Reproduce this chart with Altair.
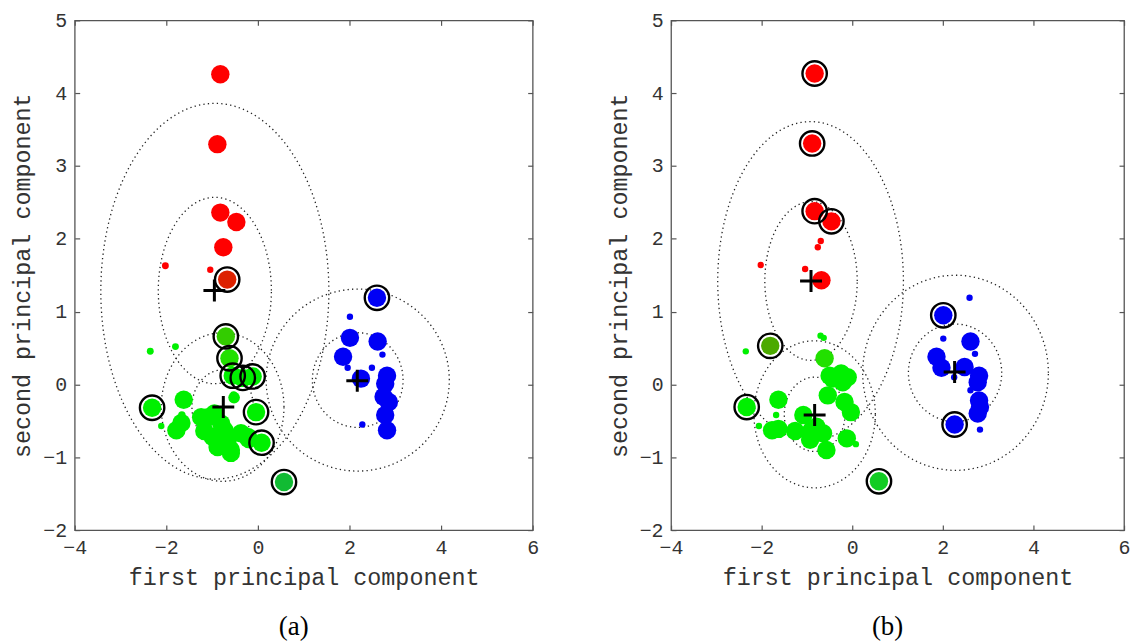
import numpy as np
import pandas as pd
import altair as alt

# ---------------- data: panel (a) ----------------
a_x = [-0.82, -0.885, -0.82, -0.47, -0.755, -2.02, -1.04, -0.67,
       -0.70, -0.62, -0.55, -0.33, -0.115, -2.31, -0.04, 0.08, 0.57,
       -2.35, -1.80, -1.62, -1.66, -2.11, -1.78, -1.67,
       -1.09, -1.17, -0.88, -0.59, -0.73, -0.37, -0.22, -0.52, -0.53,
       -0.95, -0.80, -0.985, -0.66, -0.20, -0.59, -0.88, -1.24,
       2.60, 2.01, 2.01, 2.615, 2.72, 1.86, 1.96, 2.49, 2.25,
       2.82, 2.78, 2.745, 2.86, 2.78, 2.82, 2.28]
a_y = [4.26, 3.30, 2.36, 2.23, 1.885, 1.63, 1.575, 1.44,
       0.66, 0.36, 0.12, 0.09, 0.11, -0.32, -0.38, -0.80, -1.34,
       0.455, 0.52, -0.21, -0.42, -0.57, -0.63, -0.53,
       -0.45, -0.64, -0.81, -0.90, -0.63, -0.67, -0.72, -0.18, -0.14,
       -0.40, -0.54, -0.72, -0.77, -0.75, -0.94, -0.86, -0.45,
       1.19, 0.93, 0.64, 0.59, 0.41, 0.38, 0.23, 0.23, 0.08,
       0.12, 0.01, -0.17, -0.24, -0.42, -0.63, -0.55]
a_w = [1, 1, 1, 1, 1, 0.14, 0.12, 1,
       1, 1, 1, 1, 1, 1, 1, 1, 1,
       0.14, 0.14, 1, 0.16, 0.12, 1, 1,
       1, 1, 1, 1, 1, 1, 1, 0.4, 0.14,
       1, 1, 1, 1, 1, 1, 1, 1,
       1, 0.12, 1, 1, 0.12, 1, 0.12, 0.12, 1,
       1, 1, 1, 1, 1, 1, 0.12]
a_cls = ["r"] * 7 + ["r2",
         "g2", "g3", "g", "g", "g", "g", "g", "g", "g4",
         "g", "g", "g", "g", "g", "g", "g",
         "g", "g", "g", "g", "g", "g", "g", "g", "g",
         "g", "g", "g", "g", "g", "g", "g", "g"] + ["b"] * 16
a_ring = [0] * 7 + [1] + [1] * 9 + [0] * 24 + [1] + [0] * 15
a_cx = [-0.95, -0.755, 2.17]
a_cy = [1.29, -0.31, 0.05]
a_ecx = [-0.94, -0.94, -0.77, -0.77, 2.18, 2.18]
a_ecy = [1.29, 1.28, -0.31, -0.31, 0.06, 0.06]
a_erx = [1.235, 2.49, 0.67, 1.34, 0.99, 2.0]
a_ery = [1.28, 2.58, 0.51, 1.02, 0.65, 1.25]

# ---------------- data: panel (b) ----------------
b_x = [-0.83, -0.885, -0.83, -0.46, -0.695, -0.76, -2.02, -1.04, -0.68,
       -1.81, -2.35, -0.70, -0.63, -0.61, -0.50, -0.245, -0.10, -0.21, -0.43,
       -0.54, -0.17, -0.03, -1.63, -1.68, -2.06, -2.33, -1.77, -1.63, -1.26,
       -1.08, -0.90, -0.79, -0.645, -0.93, -0.57, -0.12, 0.08, 0.59,
       2.59, 2.01, 2.01, 2.61, 2.71, 1.86, 1.97, 2.48, 2.25, 2.80, 2.77,
       2.61, 2.80, 2.82, 2.77, 2.26, 2.82]
b_y = [4.27, 3.31, 2.38, 2.24, 1.97, 1.885, 1.64, 1.585, 1.43,
       0.53, 0.455, 0.67, 0.64, 0.36, 0.12, 0.15, 0.10, 0.03, 0.08,
       -0.15, -0.24, -0.38, -0.21, -0.42, -0.57, -0.31, -0.63, -0.61, -0.64,
       -0.42, -0.63, -0.58, -0.67, -0.76, -0.90, -0.74, -0.82, -1.33,
       1.19, 0.95, 0.63, 0.59, 0.42, 0.38, 0.23, 0.24, 0.10, 0.12, 0.03,
       -0.08, -0.22, -0.31, -0.40, -0.55, -0.62]
b_w = [1, 1, 1, 1, 0.12, 0.12, 0.12, 0.12, 1,
       1, 0.12, 0.12, 0.12, 1, 1, 1, 1, 1, 1,
       1, 1, 1, 1, 0.12, 0.12, 1, 1, 1, 1,
       1, 1, 1, 1, 1, 1, 1, 0.12, 1,
       0.12, 1, 0.12, 1, 0.12, 1, 1, 1, 0.12, 1, 1,
       0.12, 1, 1, 1, 1, 0.12]
b_cls = ["r"] * 9 + ["g5", "g", "g", "g", "g3"] + ["g"] * 23 + ["g6"] + ["b"] * 17
b_ring = [1, 1, 1, 1, 0, 0, 0, 0, 0,
          1] + [0] * 15 + [1] + [0] * 11 + [1] + [0, 1] + [0] * 13 + [1, 0]
b_cx = [-0.91, -0.83, 2.26]
b_cy = [1.42, -0.42, 0.17]
b_ecx = [-0.91, -0.92, -0.83, -0.83, 2.27, 2.28]
b_ecy = [1.42, 1.42, -0.41, -0.41, 0.16, 0.16]
b_erx = [1.02, 2.05, 0.67, 1.34, 1.03, 2.05]
b_ery = [1.09, 2.19, 0.51, 1.01, 0.67, 1.34]

cls_domain = ["r", "g", "b", "r2", "g2", "g3", "g4", "g5", "g6"]
cls_range = ["#ff0000", "#00f000", "#0000f5", "#dd2200", "#33cc00",
             "#22e000", "#11bb33", "#4caa00", "#11cc22"]

x_ticks = [-4, -2, 0, 2, 4, 6]
y_ticks = [-2, -1, 0, 1, 2, 3, 4, 5]

MONO = "Liberation Mono"
TXT = "#333333"
FRAME = "#555555"


def main_axis(orient, title, values):
    return alt.Axis(orient=orient, values=values, ticks=False, domain=False, grid=False,
                    labelFont=MONO, labelFontSize=20, labelColor=TXT, labelPadding=8,
                    labelFlush=False, labelOverlap=False, labelBound=False,
                    title=title, titleFont=MONO, titleFontSize=23.5, titleFontWeight="normal",
                    titleColor=TXT, titlePadding=8)


def tick_axis(orient, values):
    return alt.Axis(orient=orient, values=values, labels=False, domain=False, grid=False,
                    ticks=True, tickSize=5, tickColor=FRAME, tickWidth=1.2, offset=-5,
                    title=None)


def panel(xs, ys, ws, cls, ring, cx, cy, ecx, ecy, erx, ery, caption, w):
    xsc = alt.Scale(domain=[-4, 6], nice=False, zero=False)
    ysc = alt.Scale(domain=[-2, 5], nice=False, zero=False)
    pts = pd.DataFrame({"x": xs, "y": ys, "w": ws, "c": cls, "ring": ring})
    cen = pd.DataFrame({"x": cx, "y": cy})
    t = np.linspace(0, 2 * np.pi, 181)
    rows = []
    for k in range(len(ecx)):
        for i, tt in enumerate(t):
            rows.append({"e": k, "i": i,
                         "x": ecx[k] + erx[k] * np.cos(tt),
                         "y": ecy[k] + ery[k] * np.sin(tt)})
    ell = pd.DataFrame(rows)

    l_ell = alt.Chart(ell).mark_line(color="#222222", strokeWidth=1.3,
                                     strokeDash=[1.3, 3.2]).encode(
        x=alt.X("x:Q", scale=xsc, axis=main_axis("bottom", "first principal component", x_ticks)),
        y=alt.Y("y:Q", scale=ysc, axis=main_axis("left", "second principal component", y_ticks)),
        detail="e:N", order="i:Q")
    l_pts = alt.Chart(pts).mark_circle(opacity=1).encode(
        x=alt.X("x:Q", scale=xsc, axis=tick_axis("top", x_ticks)),
        y=alt.Y("y:Q", scale=ysc, axis=tick_axis("right", y_ticks)),
        size=alt.Size("w:Q", scale=alt.Scale(domain=[0, 1], range=[0, 342]), legend=None),
        color=alt.Color("c:N", scale=alt.Scale(domain=cls_domain, range=cls_range), legend=None))
    l_ring = alt.Chart(pts).transform_filter("datum.ring == 1").mark_point(
        shape="circle", filled=False, size=600, color="black", strokeWidth=2.4, opacity=1).encode(
        x=alt.X("x:Q", scale=xsc, axis=tick_axis("bottom", x_ticks)),
        y=alt.Y("y:Q", scale=ysc, axis=tick_axis("left", y_ticks)))
    l_plus = alt.Chart(cen).mark_point(
        shape="M-1,0L1,0M0,-1L0,1", filled=False, size=484, color="black",
        strokeWidth=3, opacity=1).encode(
        x=alt.X("x:Q", scale=xsc, axis=None),
        y=alt.Y("y:Q", scale=ysc, axis=None))
    return alt.layer(l_ell, l_pts, l_ring, l_plus).resolve_axis(
        x="independent", y="independent").properties(
        width=w, height=512,
        title=alt.TitleParams(text=caption, orient="bottom", font="Liberation Serif",
                              fontSize=27, fontWeight="normal", color="black",
                              offset=25, anchor="middle", dx=-10))


pa = panel(a_x, a_y, a_w, a_cls, a_ring, a_cx, a_cy, a_ecx, a_ecy, a_erx, a_ery, "(a)", 460)
pb = panel(b_x, b_y, b_w, b_cls, b_ring, b_cx, b_cy, b_ecx, b_ecy, b_erx, b_ery, "(b)", 455)

chart = alt.hconcat(pa, pb, spacing=67).configure_view(
    stroke=FRAME, strokeWidth=1.3).properties(
    padding={"left": 2, "top": 0, "right": 0, "bottom": 0}, background="white")

chart.save("out.html", embed_options={"renderer": "svg", "actions": False})
